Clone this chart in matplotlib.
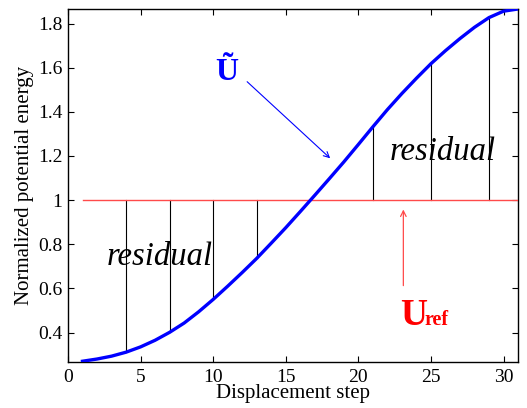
import numpy as np
import matplotlib
matplotlib.use("Agg")
import matplotlib.pyplot as plt

plt.rcParams['font.family'] = ['Liberation Serif', 'DejaVu Serif']

# displacement steps and normalized potential energy
steps = list(range(1, 32))
energy = [0.270, 0.280, 0.293, 0.311, 0.335, 0.365, 0.401, 0.443, 0.494, 0.550,
          0.610, 0.672, 0.736, 0.805, 0.875, 0.948, 1.022, 1.097, 1.173, 1.252,
          1.332, 1.410, 1.483, 1.552, 1.618, 1.677, 1.732, 1.783, 1.827, 1.856, 1.866]
u_ref = 1.0
resid_steps = [4, 7, 10, 13, 21, 25, 29]
xticks = [0, 5, 10, 15, 20, 25, 30]
yticks = [0.4, 0.6, 0.8, 1.0, 1.2, 1.4, 1.6, 1.8]
ytick_labels = ['0.4', '0.6', '0.8', '1', '1.2', '1.4', '1.6', '1.8']

fig = plt.figure(figsize=(5.27, 4.08), dpi=100)
ax = fig.add_axes([0.129, 0.113, 0.854, 0.865])

# residual bars
for s in resid_steps:
    ax.plot([s, s], [u_ref, energy[steps.index(s)]], color='black', lw=0.8, zorder=2)

ax.plot([steps[0], steps[-1]], [u_ref, u_ref], color='#ff4a4a', lw=1.0, zorder=3)
ax.plot(steps, energy, color='#0000ff', lw=2.4, zorder=4)

# labels on the plot
ax.annotate('', xy=(18.2, 1.181), xytext=(12.2, 1.545),
            arrowprops=dict(arrowstyle='->', color='#0000ff', lw=0.8))
ax.text(10.95, 1.58, '\u0168', color='#0000ff', fontsize=23, fontweight='bold',
        ha='center', va='center')

ax.annotate('', xy=(23.1, 0.97), xytext=(23.1, 0.60),
            arrowprops=dict(arrowstyle='->', color='#ff4a4a', lw=0.9))
ax.text(22.85, 0.435, 'U', color='#ff0000', fontsize=27, fontweight='bold',
        ha='left', va='baseline')
ax.text(24.55, 0.435, 'ref', color='#ff0000', fontsize=14.5, fontweight='bold',
        ha='left', va='baseline')

ax.text(6.3, 0.742, 'residual', fontsize=23.5, style='italic', ha='center', va='center')
ax.text(25.8, 1.22, 'residual', fontsize=23.5, style='italic', ha='center', va='center')

ax.set_xlim(0, 31)
ax.set_ylim(0.267, 1.866)
ax.set_xticks(xticks)
ax.set_yticks(yticks)
ax.set_yticklabels(ytick_labels)
ax.tick_params(direction='in', top=True, right=True, labelsize=14, length=4, width=0.8)
ax.tick_params(axis='x', pad=5)
ax.tick_params(axis='y', pad=4)
for sp in ax.spines.values():
    sp.set_linewidth(1.0)

ax.set_xlabel('Displacement step', fontsize=15, labelpad=-1)
ax.set_ylabel('Normalized potential energy', fontsize=15, labelpad=3)

fig.savefig('out.png', dpi=100)
